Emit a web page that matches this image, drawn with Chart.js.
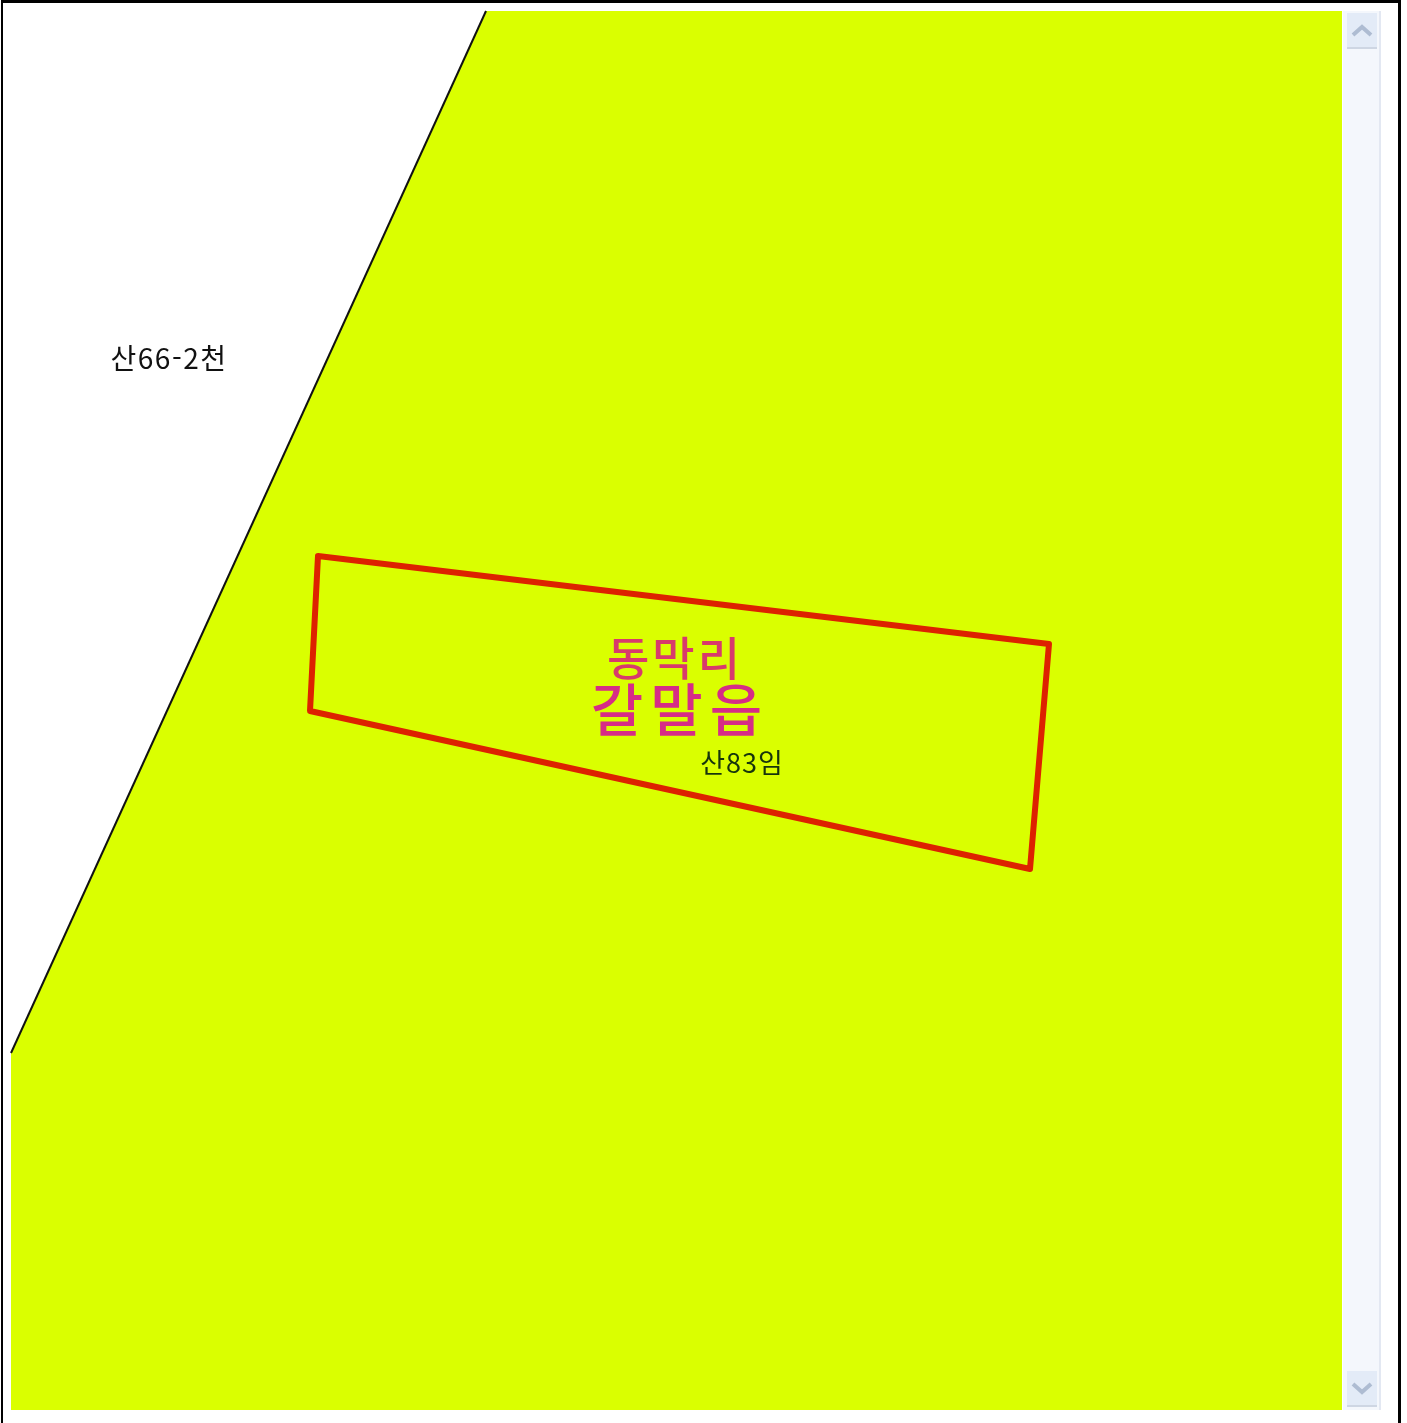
<!DOCTYPE html>
<html lang="ko">
<head>
<meta charset="utf-8">
<title>산83임</title>
<script src="https://cdn.jsdelivr.net/npm/chart.js@4/dist/chart.umd.min.js"></script>
<style>
  html, body { margin: 0; padding: 0; background: #fff; overflow: hidden; }
  canvas { display: block; }
</style>
</head>
<body>
<canvas id="map" width="1407" height="1423"></canvas>
<script>
// map coordinates (x to the right, y downwards)
const parcelX = [486, 1342, 1342, 11, 11, 486];
const parcelY = [11, 11, 1410, 1410, 1053, 11];

const boundaryX = [486, 11];
const boundaryY = [11, 1053];

const siteX = [318, 1049, 1030, 310, 318];
const siteY = [556, 644, 869, 711, 556];

const labelTexts = ['산66-2천', '동막리', '갈말읍', '산83임'];
const labelX = [169, 675, 680, 742];
const labelY = [358, 658, 709, 763];

const YELLOW = '#daff00';
const RED = '#dd2200';

function points(xs, ys) {
  return xs.map((x, i) => ({ x: x, y: ys[i] }));
}

// window frame and the scrollbar, they are behind the map
const chromePlugin = {
  id: 'chrome',
  beforeDatasetsDraw(chart) {
    const ctx = chart.ctx;
    const sx = chart.scales.x;
    const sy = chart.scales.y;
    function rect(x0, y0, x1, y1, color) {
      ctx.fillStyle = color;
      ctx.fillRect(sx.getPixelForValue(x0), sy.getPixelForValue(y0),
        sx.getPixelForValue(x1) - sx.getPixelForValue(x0),
        sy.getPixelForValue(y1) - sy.getPixelForValue(y0));
    }
    function chevron(cx, cy, dir) {
      ctx.strokeStyle = '#aebcd2';
      ctx.lineWidth = 4;
      ctx.beginPath();
      ctx.moveTo(sx.getPixelForValue(cx - 9), sy.getPixelForValue(cy + 4 * dir));
      ctx.lineTo(sx.getPixelForValue(cx), sy.getPixelForValue(cy - 4 * dir));
      ctx.lineTo(sx.getPixelForValue(cx + 9), sy.getPixelForValue(cy + 4 * dir));
      ctx.stroke();
    }
    ctx.save();
    rect(1, 0, 1401, 3, '#000');
    rect(1, 0, 3, 1423, '#000');
    rect(1398, 0, 1401, 1423, '#000');
    rect(1343, 11, 1381, 1410, '#f4f7fc');
    rect(1379, 11, 1381, 1410, '#e3e8f2');
    rect(1347, 13, 1377, 47, '#e3ebf7');
    rect(1347, 47, 1377, 49, '#ced6e3');
    rect(1347, 1371, 1377, 1405, '#e3ebf7');
    rect(1347, 1405, 1377, 1407, '#ced6e3');
    chevron(1362, 31, 1);
    chevron(1362, 1388, -1);
    ctx.restore();
  }
};

const labelFonts = ['400 28px', '500 46px', '500 57px', '400 27px'];
const labelColors = ['#111', '#d83a6c', '#d62c86', '#16340c'];
const labelSpacing = ['1.5px', '3px', '7px', '1px'];

const labelPlugin = {
  id: 'labels',
  afterDatasetsDraw(chart) {
    const ctx = chart.ctx;
    ctx.save();
    ctx.textAlign = 'center';
    ctx.textBaseline = 'middle';
    labelTexts.forEach(function (text, i) {
      ctx.font = labelFonts[i] + ' "Noto Sans CJK KR"';
      ctx.letterSpacing = labelSpacing[i];
      ctx.fillStyle = labelColors[i];
      ctx.fillText(text, chart.scales.x.getPixelForValue(labelX[i]), chart.scales.y.getPixelForValue(labelY[i]));
    });
    ctx.restore();
  }
};

new Chart(document.getElementById('map'), {
  type: 'scatter',
  data: {
    datasets: [{
      // drawn last to first, so the order here is top layer first
      label: '산83임 경계',
      data: points(siteX, siteY),
      showLine: true,
      borderColor: RED,
      borderWidth: 6,
      borderJoinStyle: 'round',
      borderCapStyle: 'round',
      pointRadius: 0,
      tension: 0
    }, {
      label: '지적선',
      data: points(boundaryX, boundaryY),
      showLine: true,
      borderColor: '#111',
      borderWidth: 2,
      pointRadius: 0,
      tension: 0
    }, {
      label: '산83임',
      data: points(parcelX, parcelY),
      showLine: true,
      fill: 'shape',
      backgroundColor: YELLOW,
      borderWidth: 0,
      borderColor: YELLOW,
      pointRadius: 0,
      tension: 0
    }]
  },
  options: {
    responsive: false,
    animation: false,
    layout: { padding: 0 },
    plugins: {
      legend: { display: false },
      tooltip: { enabled: false }
    },
    scales: {
      x: { type: 'linear', display: false, min: 0, max: 1407 },
      y: { type: 'linear', display: false, min: 0, max: 1423, reverse: true }
    }
  },
  plugins: [chromePlugin, labelPlugin]
});
</script>
</body>
</html>
